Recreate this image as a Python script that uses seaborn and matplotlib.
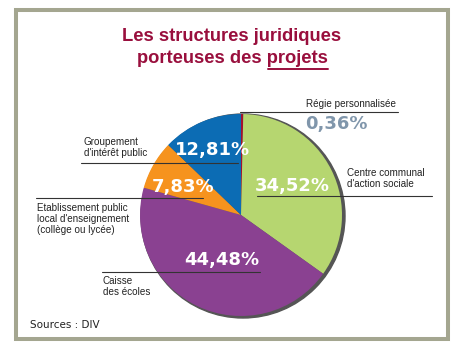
import matplotlib
matplotlib.use('Agg')
import matplotlib.pyplot as plt
import seaborn as sns
from matplotlib.patches import Circle, Rectangle

# data
categories = ['Régie personnalisée',
              "Centre communal\nd'action sociale",
              'Caisse\ndes écoles',
              "Etablissement public\nlocal d'enseignement\n(collège ou lycée)",
              "Groupement\nd'intérêt public"]
shares = [0.36, 34.52, 44.48, 7.83, 12.81]
share_labels = ['0,36%', '34,52%', '44,48%', '7,83%', '12,81%']
colors = ['#a3122f', '#b6d670', '#8a4191', '#f6931e', '#0c6cb4']

sns.set_theme(style='white')
plt.rcParams['font.family'] = ['DejaVu Sans']

W, H = 464, 362
fig = plt.figure(figsize=(W / 100, H / 100), dpi=100)
ax = fig.add_axes([0, 0, 1, 1])


def Y(y):
    # image pixel row -> axes y
    return H - y


# shadow behind the pie
ax.add_patch(Circle((243, Y(216)), 102, color='#555555', zorder=0))
ax.pie(shares, colors=colors, center=(241, Y(215)), radius=101,
       startangle=90, counterclock=False,
       wedgeprops=dict(linewidth=0))
ax.set_xlim(0, W)
ax.set_ylim(0, H)
ax.set_aspect('auto')
ax.axis('off')

# frame
ax.add_patch(Rectangle((16, Y(339)), 432, 329, fill=False,
                       edgecolor='#a4a690', linewidth=2.9))

# title
title_kw = dict(color='#990f3d', fontsize=13.2, fontweight='bold',
                family=['Liberation Sans', 'DejaVu Sans'], ha='center', va='baseline')
ax.text(232, Y(41), 'Les structures juridiques', **title_kw)
ax.text(232, Y(63), 'porteuses des projets', **title_kw)
ax.plot([268, 328], [Y(69), Y(69)], color='#990f3d', lw=1.4)

# category labels with leader lines
lab_kw = dict(fontsize=7.1, color='#222222', ha='left', va='top', linespacing=1.15,
              family=['Liberation Sans', 'DejaVu Sans'])
cat_pos = [(306, 99), (347, 168), (103, 276), (37, 203), (84, 137)]
leaders = [(240, 398, 112), (257, 432, 196), (102, 260, 272), (36, 203, 198), (81, 238, 163)]
for name, (tx, ty), (x0, x1, ly) in zip(categories, cat_pos, leaders):
    ax.text(tx, Y(ty), name, **lab_kw)
    ax.plot([x0, x1], [Y(ly), Y(ly)], color='#333333', lw=0.8, zorder=3)

# percentage labels
pct_pos = [(336, 124), (292, 186), (222, 260), (183, 187), (213, 150)]
for i, (lbl, (px, py)) in enumerate(zip(share_labels, pct_pos)):
    ax.text(px, Y(py), lbl, fontsize=13, fontweight='bold',
            color='#8096ab' if i == 0 else 'white',
            ha='center', va='center', zorder=4)

ax.text(30, Y(325), 'Sources : DIV', fontsize=7.5, color='#222222',
        ha='left', va='center')

fig.savefig('out.png', dpi=100)
